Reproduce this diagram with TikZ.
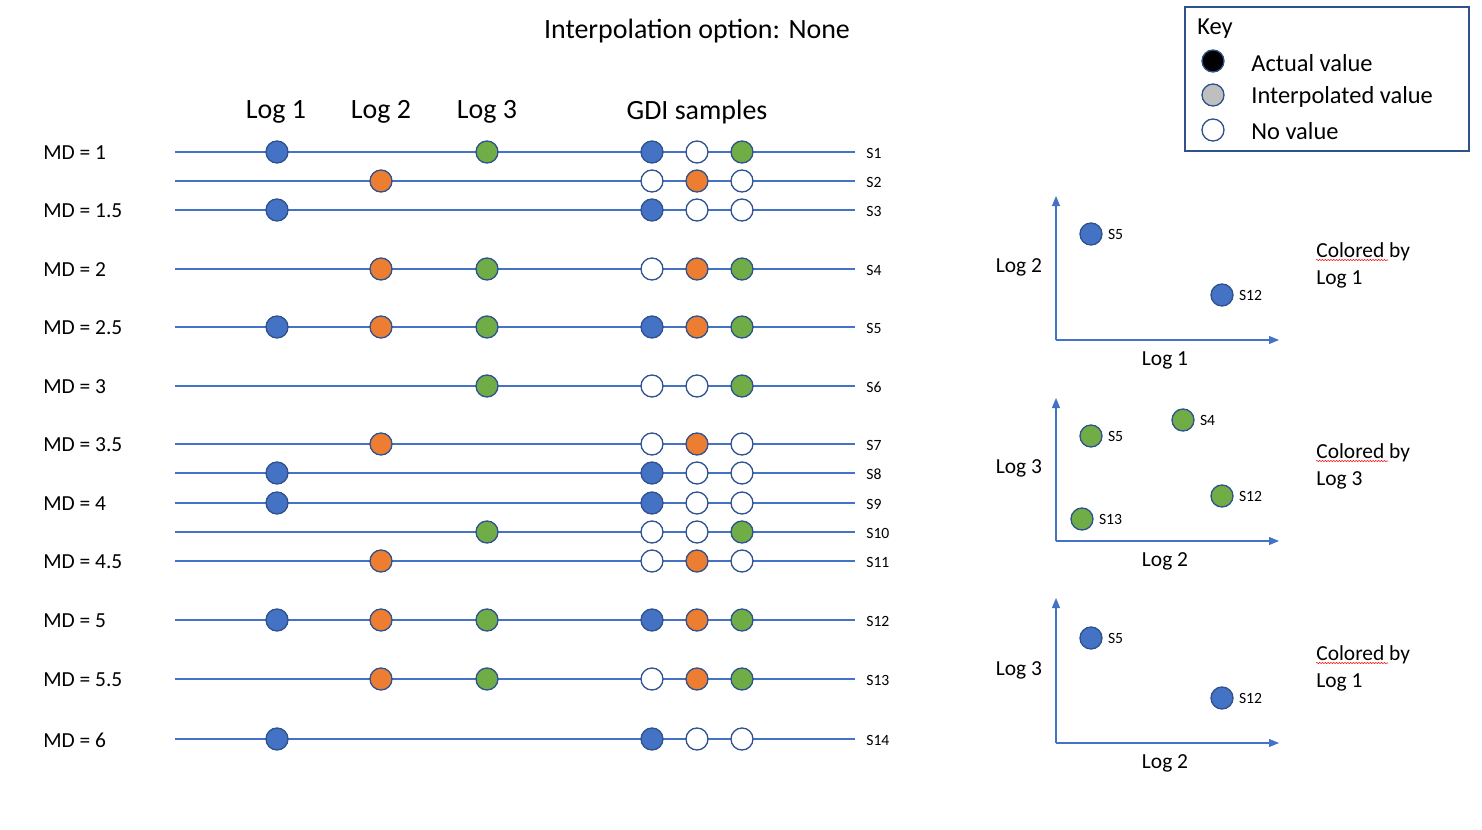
\documentclass[tikz,border=0pt]{standalone}
\usepackage{fontspec}
\setmainfont{Carlito}
\usetikzlibrary{decorations.pathmorphing,arrows.meta}
\definecolor{cblue}{HTML}{4472C4}
\definecolor{corange}{HTML}{ED7D31}
\definecolor{cgreen}{HTML}{70AD47}
\definecolor{cedge}{HTML}{2F528F}
\definecolor{cgrey}{HTML}{BFBFBF}
\begin{document}
\begin{tikzpicture}[x=0.02cm,y=-0.02cm,
  dot/.style={circle,draw=cedge,line width=0.75pt,minimum size=0.44cm,inner sep=0pt},
  bl/.style={dot,fill=cblue},
  orr/.style={dot,fill=corange},
  gr/.style={dot,fill=cgreen},
  wh/.style={dot,fill=white},
  bk/.style={dot,fill=black},
  gy/.style={dot,fill=cgrey},
  rowline/.style={draw=cblue,line width=0.6pt},
  big/.style={font=\fontsize{15.9}{18}\selectfont,inner sep=0pt},
  mid/.style={font=\fontsize{12.2}{14}\selectfont,inner sep=0pt},
  keyt/.style={font=\fontsize{13.9}{16}\selectfont,inner sep=0pt},
  slab/.style={font=\fontsize{8.9}{10}\selectfont,inner sep=0pt},
  axis/.style={draw=cblue,line width=0.6pt},
  keybox/.style={draw=cedge,line width=1.2pt,inner sep=0pt,minimum width=5.68cm,minimum height=2.88cm},
  squig/.style={draw=red,line width=0.3pt,decorate,decoration={snake,amplitude=0.35pt,segment length=1.6pt}}
]
\useasboundingbox (0,0) rectangle (1482,829);

% title and headers
\node[big] (title) at (697,31) {Interpolation option: None};
\node[big] (h1) at (276,112) {Log 1};
\node[big] (h2) at (381,112) {Log 2};
\node[big] (h3) at (487,112) {Log 3};
\node[big] (h4) at (697,112) {GDI samples};

% MD labels
\foreach \v/\y in {1/153,1.5/211,2/270,2.5/328,3/387,3.5/445,4/504,4.5/562,5/621,5.5/680,6/740}
  \node[mid,anchor=west] (md\v) at (43,\y) {MD = \v};

% column coordinates
\coordinate (c1) at (277,0);
\coordinate (c2) at (381,0);
\coordinate (c3) at (487,0);
\coordinate (g1) at (652,0);
\coordinate (g2) at (697,0);
\coordinate (g3) at (742,0);

% rows
\foreach \n/\y in {1/152,2/181,3/210,4/269,5/327,6/386,7/444,8/473,9/503,10/532,11/561,12/620,13/679,14/739} {
  \coordinate (a\n) at (175,\y);
  \coordinate (b\n) at (855,\y);
  \draw[rowline] (a\n) -- (b\n);
  \node[slab,anchor=west] (s\n) at (866,\y+1) {S\n};
}

% log circles
\foreach \n in {1,3,5,8,9,12,14} \node[bl] (la\n) at (a\n -| c1) {};
\foreach \n in {2,4,5,7,11,12,13} \node[orr] (lb\n) at (a\n -| c2) {};
\foreach \n in {1,4,5,6,10,12,13} \node[gr] (lc\n) at (a\n -| c3) {};

% GDI circles
\foreach \n/\p/\q/\r in {1/bl/wh/gr,2/wh/orr/wh,3/bl/wh/wh,4/wh/orr/gr,5/bl/orr/gr,6/wh/wh/gr,7/wh/orr/wh,8/bl/wh/wh,9/bl/wh/wh,10/wh/wh/gr,11/wh/orr/wh,12/bl/orr/gr,13/wh/orr/gr,14/bl/wh/wh} {
  \node[\p] (ga\n) at (a\n -| g1) {};
  \node[\q] (gb\n) at (a\n -| g2) {};
  \node[\r] (gc\n) at (a\n -| g3) {};
}

% key
\node[keybox] (key) at (1327,79) {};
\node[keyt,anchor=west] (keyt) at (1197,29) {Key};
\node[bk] (k1) at (1213,61) {};
\node[gy] (k2) at (1213,95) {};
\node[wh] (k3) at (1213,130) {};
\node[keyt,anchor=west] (kt1) at (1251,63) {Actual value};
\node[keyt,anchor=west] (kt2) at (1251,97) {Interpolated value};
\node[keyt,anchor=west] (kt3) at (1251,131) {No value};

% scatter plots
\foreach \i/\yo/\yt/\ylab/\xlab/\cl in {1/340/196/Log 2/Log 1/Log 1,2/541/398/Log 3/Log 2/Log 3,3/743/598/Log 3/Log 2/Log 1} {
  \coordinate (o\i) at (1056,\yo);
  \coordinate (yt\i) at (1056,\yt);
  \coordinate (xt\i) at (1279,\yo);
  \draw[axis,-{Triangle[length=0.2cm,width=0.16cm]}] (o\i) -- (yt\i);
  \draw[axis,-{Triangle[length=0.2cm,width=0.16cm]}] (o\i) -- (xt\i);
  \node[mid] (yl\i) at (1019,\yo-73) {\ylab};
  \node[mid] (xl\i) at (1165,\yo+20) {\xlab};
  \node[mid,anchor=west] (cb\i) at (1316,\yo-88) {Colored by};
  \node[mid,anchor=west] (cl\i) at (1316,\yo-61) {\cl};
  \draw[squig] (1316,\yo-80) -- (1388,\yo-80);
}

% scatter points
\node[bl] (p1a) at (1091,234) {};
\node[slab,anchor=west] at (p1a.east) [xshift=0.1cm] {S5};
\node[bl] (p1b) at (1222,295) {};
\node[slab,anchor=west] at (p1b.east) [xshift=0.1cm] {S12};

\node[gr] (p2a) at (1091,436) {};
\node[slab,anchor=west] at (p2a.east) [xshift=0.1cm] {S5};
\node[gr] (p2b) at (1183,420) {};
\node[slab,anchor=west] at (p2b.east) [xshift=0.1cm] {S4};
\node[gr] (p2c) at (1222,496) {};
\node[slab,anchor=west] at (p2c.east) [xshift=0.1cm] {S12};
\node[gr] (p2d) at (1082,519) {};
\node[slab,anchor=west] at (p2d.east) [xshift=0.1cm] {S13};

\node[bl] (p3a) at (1091,638) {};
\node[slab,anchor=west] at (p3a.east) [xshift=0.1cm] {S5};
\node[bl] (p3b) at (1222,698) {};
\node[slab,anchor=west] at (p3b.east) [xshift=0.1cm] {S12};
\end{tikzpicture}
\end{document}
